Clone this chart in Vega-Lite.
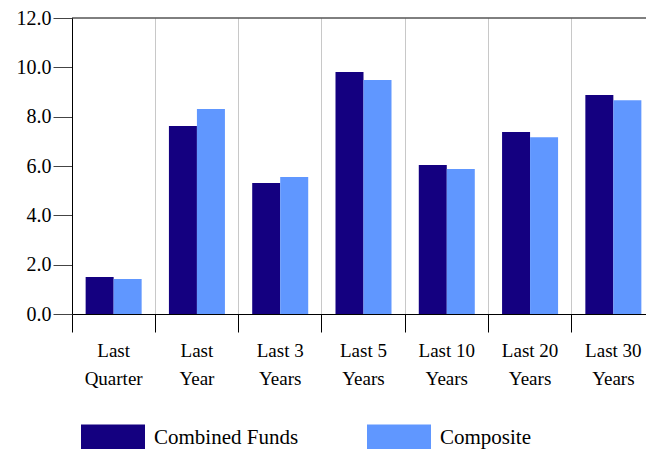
{
  "$schema": "https://vega.github.io/schema/vega-lite/v6.json",
  "width": 574,
  "height": 296,
  "autosize": {"type": "none"},
  "padding": {"left": 72, "top": 18, "right": 0, "bottom": 135},
  "config": {"view": {"stroke": null}, "font": "Liberation Serif"},
  "layer": [
    {
      "data": {"values": [
        {"period": "Last Quarter", "series": "Combined Funds", "value": 1.50},
        {"period": "Last Quarter", "series": "Composite", "value": 1.42},
        {"period": "Last Year", "series": "Combined Funds", "value": 7.62},
        {"period": "Last Year", "series": "Composite", "value": 8.31},
        {"period": "Last 3 Years", "series": "Combined Funds", "value": 5.31},
        {"period": "Last 3 Years", "series": "Composite", "value": 5.55},
        {"period": "Last 5 Years", "series": "Combined Funds", "value": 9.81},
        {"period": "Last 5 Years", "series": "Composite", "value": 9.49},
        {"period": "Last 10 Years", "series": "Combined Funds", "value": 6.04},
        {"period": "Last 10 Years", "series": "Composite", "value": 5.88},
        {"period": "Last 20 Years", "series": "Combined Funds", "value": 7.38},
        {"period": "Last 20 Years", "series": "Composite", "value": 7.17},
        {"period": "Last 30 Years", "series": "Combined Funds", "value": 8.88},
        {"period": "Last 30 Years", "series": "Composite", "value": 8.67}
      ]},
      "mark": {"type": "bar"},
      "encoding": {
        "x": {
          "field": "period", "type": "nominal", "sort": null,
          "scale": {"range": [0, 583], "paddingInner": 0, "paddingOuter": 0},
          "axis": {
            "title": null, "bandPosition": 0, "grid": true, "gridColor": "#c8c8c8", "gridWidth": 1,
            "tickColor": "#000", "tickSize": 18, "domainColor": "#000",
            "labelAngle": 0, "labelOffset": 0, "labelAlign": "center", "labelFlush": false,
            "labelOverlap": false, "labelBound": false,
            "labelExpr": "[substring(datum.label, 0, lastindexof(datum.label, ' ')), substring(datum.label, lastindexof(datum.label, ' ') + 1)]",
            "labelFontSize": 19, "labelColor": "#000", "labelPadding": 9, "labelBaseline": "top",
            "labelLineHeight": 28, "labelLimit": 0
          }
        },
        "xOffset": {
          "field": "series", "type": "nominal", "sort": ["Combined Funds", "Composite"],
          "scale": {"paddingInner": 0, "paddingOuter": 0.487}
        },
        "y": {
          "field": "value", "type": "quantitative",
          "scale": {"domain": [0, 12], "nice": false},
          "axis": {
            "title": null, "values": [0, 2, 4, 6, 8, 10, 12], "format": ".1f", "grid": false,
            "tickSize": 19, "tickColor": "#444", "domainColor": "#000",
            "labelFontSize": 20, "labelPadding": 2, "labelColor": "#000"
          }
        },
        "color": {
          "field": "series", "type": "nominal",
          "scale": {"domain": ["Combined Funds", "Composite"], "range": ["#140080", "#6097ff"]},
          "legend": {
            "title": null, "orient": "none", "legendX": 9, "legendY": 388, "direction": "horizontal",
            "symbolType": "M-1,-0.44H1V0.44H-1Z", "symbolSize": 4096, "symbolStrokeWidth": 0,
            "symbolOpacity": 1, "labelFontSize": 21, "labelOffset": 9, "columnPadding": 68,
            "padding": 0, "labelColor": "#000", "labelLimit": 0
          }
        }
      }
    },
    {
      "data": {"values": [{}]},
      "mark": {"type": "rule", "color": "#000"},
      "encoding": {"y": {"datum": 12}}
    }
  ]
}
